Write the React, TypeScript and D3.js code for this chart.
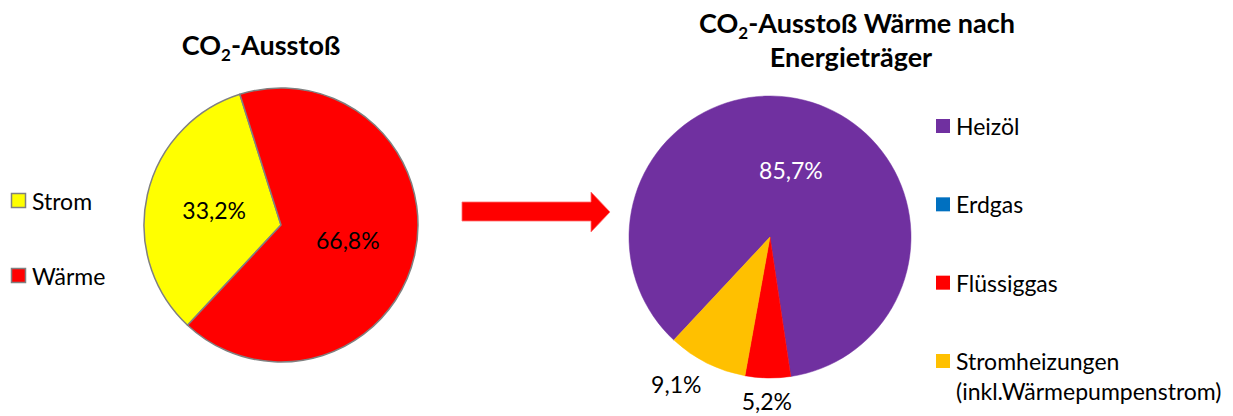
import React from 'react';
import * as d3 from 'd3';

// ---- data ----
const leftTitle = 'Ausstoß';
const leftCategories = ['Strom', 'Wärme'];
const leftValues = [33.2, 66.8];
const leftColors = ['#FFFF00', '#FF0000'];

const rightTitleLines = ['-Ausstoß Wärme nach', 'Energieträger'];
const rightCategories = ['Heizöl', 'Erdgas', 'Flüssiggas', 'Stromheizungen'];
const rightLegendLines = [['Heizöl'], ['Erdgas'], ['Flüssiggas'], ['Stromheizungen', '(inkl.Wärmepumpenstrom)']];
const rightValues = [85.7, 0, 5.2, 9.1];
const rightColors = ['#7030A0', '#0070C0', '#FF0000', '#FFC000'];

const W = 1233;
const H = 416;
const FONT = 'Lato, Calibri, "Open Sans", sans-serif';
const START = (223 * Math.PI) / 180;

const locale = d3.formatLocale({ decimal: ',', thousands: '.', grouping: [3], currency: ['', '€'] });
const fmt = locale.format('.1f');

type PieDatum = { name: string; value: number; color: string };

function Pie({ cx, cy, r, data, stroke, insideThreshold, insideColor }: {
  cx: number; cy: number; r: number; data: PieDatum[]; stroke: string | null; insideThreshold: number; insideColor: (d: PieDatum) => string;
}) {
  const pie = d3.pie<PieDatum>().sort(null).value(d => d.value).startAngle(START).endAngle(START + 2 * Math.PI);
  const arcs = pie(data);
  const arc = d3.arc<d3.PieArcDatum<PieDatum>>().innerRadius(0).outerRadius(r);
  const labelR = r * 1.165;
  return (
    <g transform={`translate(${cx},${cy})`}>
      {arcs.map((a, i) => a.data.value > 0 && (
        <path key={i} d={arc(a) || ''} fill={a.data.color}
          stroke={stroke || a.data.color} strokeWidth={stroke ? 1.5 : 0.5} strokeLinejoin="round" />
      ))}
      {arcs.map((a, i) => {
        if (a.data.value <= 0) return null;
        const label = fmt(a.data.value) + '%';
        if (a.data.value >= insideThreshold) {
          const [x, y] = arc.centroid(a);
          return (
            <text key={'l' + i} x={x} y={y} textAnchor="middle" dominantBaseline="central"
              fontSize={23} fontFamily={FONT} fill={insideColor(a.data)}>{label}</text>
          );
        }
        const mid = (a.startAngle + a.endAngle) / 2;
        const sx = Math.sin(mid);
        const cyy = -Math.cos(mid);
        const x = sx * labelR + sx * 45;
        const y = cyy * labelR;
        return (
          <text key={'l' + i} x={x} y={y} textAnchor="middle" dominantBaseline="central"
            fontSize={23} fontFamily={FONT} fill="#000">{label}</text>
        );
      })}
    </g>
  );
}

export default function App() {
  const leftData: PieDatum[] = leftCategories.map((n, i) => ({ name: n, value: leftValues[i], color: leftColors[i] }));
  const rightData: PieDatum[] = rightCategories.map((n, i) => ({ name: n, value: rightValues[i], color: rightColors[i] }));

  const leftLegendY = d3.scalePoint<string>().domain(leftCategories).range([201, 276]);
  const rightLegendY = d3.scalePoint<string>().domain(rightCategories).range([126, 361]);

  return (
    <div style={{ position: 'absolute', left: 0, top: 0, width: W, height: H, background: '#fff' }}>
      <svg width={W} height={H} viewBox={`0 0 ${W} ${H}`} style={{ display: 'block' }}>
        <rect width={W} height={H} fill="#fff" />

        {/* Left title */}
        <text x={261} y={55} textAnchor="middle" fontSize={27} fontWeight="bold" fontFamily={FONT} fill="#000">
          <tspan>CO</tspan>
          <tspan fontSize={17} dy={6}>2</tspan>
          <tspan dy={-6}>-{leftTitle}</tspan>
        </text>

        {/* Left legend */}
        {leftCategories.map((c, i) => (
          <g key={c}>
            <rect x={11.5} y={leftLegendY(c)! - 7.5} width={14} height={14} fill={leftColors[i]} stroke="#808080" strokeWidth={1.5} />
            <text x={32} y={leftLegendY(c)!} dominantBaseline="central" fontSize={23} fontFamily={FONT} fill="#000">{c}</text>
          </g>
        ))}

        <Pie cx={281} cy={225} r={137} data={leftData} stroke="#808080" insideThreshold={20} insideColor={() => '#000'} />

        {/* Arrow */}
        <path d="M462,202 L591,202 L591,192 L610,212 L591,232 L591,221 L462,221 Z" fill="#FF0000" stroke="#FF7070" strokeWidth={0.8} />

        {/* Right title */}
        <text x={857} y={33} textAnchor="middle" fontSize={27} fontWeight="bold" fontFamily={FONT} fill="#000">
          <tspan>CO</tspan>
          <tspan fontSize={17} dy={6}>2</tspan>
          <tspan dy={-6}>{rightTitleLines[0]}</tspan>
        </text>
        <text x={851} y={67} textAnchor="middle" fontSize={27} fontWeight="bold" fontFamily={FONT} fill="#000">{rightTitleLines[1]}</text>

        <Pie cx={770} cy={237} r={141} data={rightData} stroke={null} insideThreshold={20} insideColor={() => '#fff'} />

        {/* Right legend */}
        {rightCategories.map((c, i) => (
          <g key={c}>
            <rect x={936} y={rightLegendY(c)! - 7} width={14} height={14} fill={rightColors[i]} />
            {rightLegendLines[i].map((line, j) => (
              <text key={j} x={956} y={rightLegendY(c)! + j * 30} dominantBaseline="central" fontSize={23} fontFamily={FONT} fill="#000">{line}</text>
            ))}
          </g>
        ))}
      </svg>
    </div>
  );
}
